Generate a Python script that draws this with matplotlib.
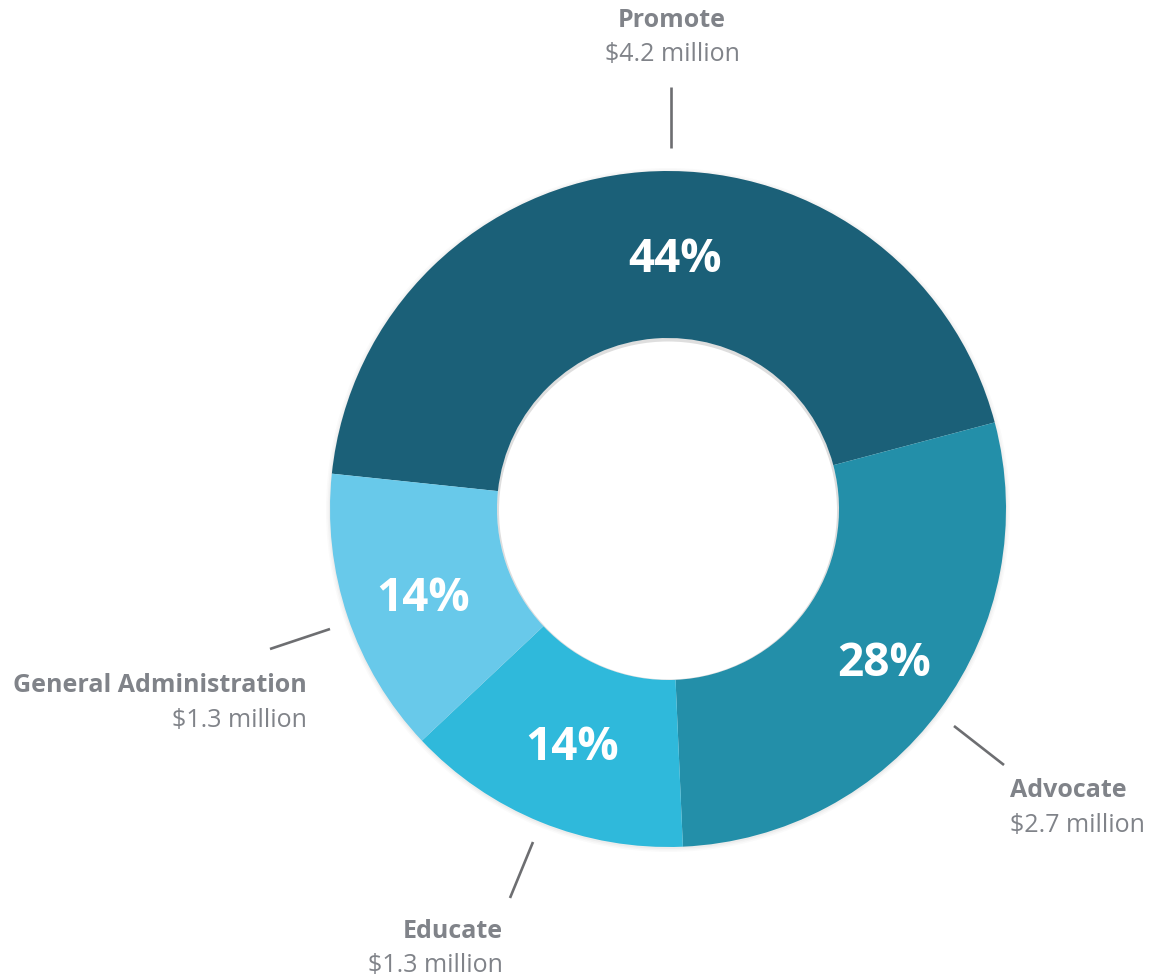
import matplotlib
matplotlib.use("Agg")
import matplotlib.pyplot as plt
from matplotlib.patches import Circle

# ---- data ----
categories = ["Promote", "Advocate", "Educate", "General Administration"]
values = [4.2, 2.7, 1.3, 1.3]          # $ million
amount_labels = ["$4.2 million", "$2.7 million", "$1.3 million", "$1.3 million"]
colors = ["#1b6078", "#238fa9", "#2fb9db", "#68c9ea"]

W, H = 1153, 976
fig = plt.figure(figsize=(W / 100, H / 100), dpi=100)
ax = fig.add_axes([0, 0, 1, 1])

def Y(py):
    return H - py

cx, cy = 668, Y(509)
R_out, R_in = 338, 171
width = R_out - R_in

# soft shadow
for i, a in enumerate([0.03, 0.025, 0.02]):
    ax.add_patch(Circle((cx, cy - 1), R_out + 1 + i * 1.5, color="black", alpha=a, lw=0, zorder=0))
ax.add_patch(Circle((cx, cy), R_in, color="black", alpha=0.06, lw=0, zorder=0))
ax.add_patch(Circle((cx, cy - 1.5), R_in - 2, color="white", lw=0, zorder=0.5))

wedges, _ = ax.pie(values, colors=colors, startangle=174.0, counterclock=False,
                   center=(cx, cy), radius=R_out,
                   wedgeprops=dict(width=width, edgecolor="none", linewidth=0),
                   frame=True)
ax.set_xlim(0, W)
ax.set_ylim(0, H)
ax.set_aspect("equal")
ax.axis("off")

total = sum(values)
pcts = [f"{round(v / total * 100):d}%" for v in values]

font = ["Open Sans", "DejaVu Sans"]
pct_pos = [(675, 272), (884, 676), (572, 760), (423, 611)]
for (px, py), t in zip(pct_pos, pcts):
    ax.text(px, Y(py), t, ha="center", va="baseline", color="white",
            fontsize=33, fontweight="bold", family=font, zorder=5)

gray = "#808389"
line_c = "#6d6e71"
# label positions: (x, baseline_name, baseline_amount, ha)
label_pos = [(672, 27, 61, "center"),
             (1010, 797, 832, "left"),
             (503, 938, 972, "right"),
             (307, 692, 727, "right")]
for (lx, b1, b2, ha), name, amt in zip(label_pos, categories, amount_labels):
    ax.text(lx, Y(b1), name, ha=ha, va="baseline", color=gray,
            fontsize=18, fontweight="bold", family=font)
    ax.text(lx, Y(b2), amt, ha=ha, va="baseline", color=gray,
            fontsize=18, fontweight="normal", family=font)

leaders = [((671, 87), (671, 148)),
           ((954, 726), (1004, 765)),
           ((533, 842), (510, 898)),
           ((270, 649), (330, 629))]
for (x1, y1), (x2, y2) in leaders:
    ax.plot([x1, x2], [Y(y1), Y(y2)], color=line_c, lw=1.9, solid_capstyle="butt")

fig.savefig("out.png", dpi=100, facecolor="white")
